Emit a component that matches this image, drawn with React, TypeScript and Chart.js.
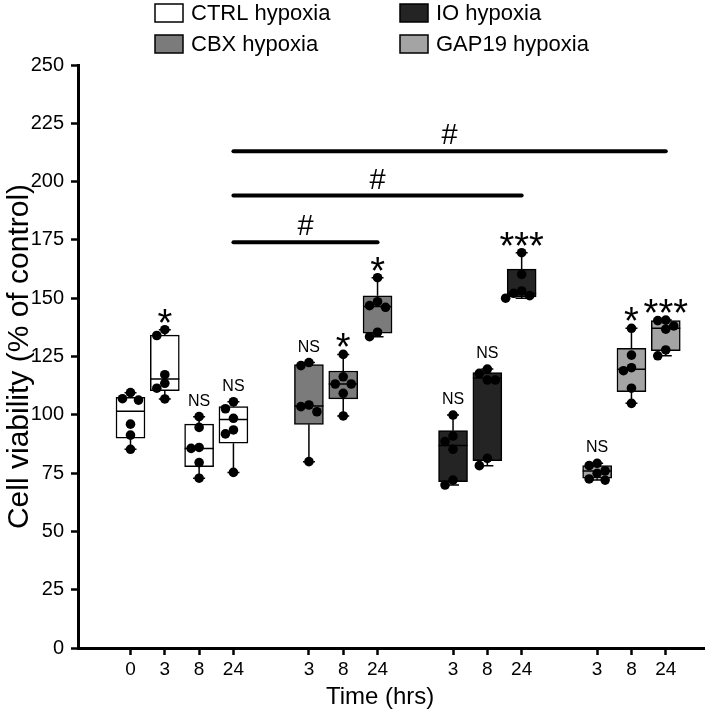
import React, { useEffect, useRef } from 'react';
import { Chart, registerables } from 'chart.js';

Chart.register(...registerables);

// ---------------- data ----------------
const groupNames = ['CTRL hypoxia', 'CBX hypoxia', 'IO hypoxia', 'GAP19 hypoxia'];
const timeSlots = ['0', '3', '8', '24'];

const ctrlTimes = ['0', '3', '8', '24'];
const cbxTimes = ['3', '8', '24'];
const ioTimes = ['3', '8', '24'];
const gapTimes = ['3', '8', '24'];

// individual measurements (% of control)
const ctrlPoints = [
  [109.5, 106.9, 106.3, 96.0, 91.3, 85.2],
  [136.5, 134.0, 117.2, 113.5, 111.4, 106.8],
  [99.2, 94.6, 86.0, 85.6, 79.5, 72.8],
  [105.6, 102.6, 98.5, 93.5, 91.8, 75.3],
];
const cbxPoints = [
  [122.4, 121.1, 104.2, 103.5, 101.3, 79.9],
  [125.9, 116.3, 113.2, 113.2, 109.2, 99.5],
  [158.8, 148.5, 146.8, 146.1, 135.4, 133.5],
];
const ioPoints = [
  [99.9, 90.9, 88.5, 85.2, 72.0, 69.9],
  [119.6, 117.8, 114.9, 114.9, 81.3, 78.2],
  [169.5, 160.2, 153.1, 152.1, 151.1, 150.0],
];
const gapPoints = [
  [79.2, 78.2, 76.0, 74.9, 72.5, 72.0],
  [137.1, 125.6, 120.2, 118.9, 111.4, 104.9],
  [140.6, 140.4, 138.1, 136.7, 127.8, 125.3],
];

// box statistics: [min, q1, median, q3, max]
const ctrlBoxes = [
  [85.2, 90.0, 101.5, 107.5, 109.5],
  [106.8, 110.3, 115.4, 134.2, 136.5],
  [72.8, 77.8, 85.6, 96.0, 99.2],
  [75.3, 87.8, 98.0, 103.5, 105.6],
];
const cbxBoxes = [
  [79.9, 95.9, 103.8, 121.5, 122.4],
  [99.5, 106.8, 113.2, 118.8, 125.9],
  [133.5, 135.0, 146.4, 151.0, 158.8],
];
const ioBoxes = [
  [69.9, 71.3, 86.8, 93.2, 99.9],
  [78.2, 80.3, 115.8, 118.1, 119.6],
  [150.0, 150.6, 152.0, 162.5, 169.5],
];
const gapBoxes = [
  [72.0, 72.8, 75.9, 78.2, 79.2],
  [104.9, 109.9, 119.5, 128.5, 137.1],
  [125.3, 127.5, 137.1, 140.4, 140.6],
];

// significance vs control
const ctrlSig = ['', '*', 'NS', 'NS'];
const cbxSig = ['NS', '*', '*'];
const ioSig = ['NS', 'NS', '***'];
const gapSig = ['NS', '*', '***'];

// "#" brackets from CTRL 24 h to the 24 h box of each group
const hashTargets = [1, 2, 3];
const hashLevels = [174, 194, 213];

const yTitle = 'Cell viability (% of control)';
const xTitle = 'Time (hrs)';
const yMin = 0;
const yMax = 250;
const yStep = 25;

// ---------------- styling ----------------
const groupColors = ['#ffffff', '#7b7b7b', '#242424', '#a4a4a4'];
const FONT = '"Liberation Sans", Arial, Helvetica, sans-serif';
const GROUP_STRIDE = 4.2;

type Box = { g: number; pos: number; label: string; stats: number[]; points: number[]; sig: string };

const groupTimes = [ctrlTimes, cbxTimes, ioTimes, gapTimes];
const groupBoxes = [ctrlBoxes, cbxBoxes, ioBoxes, gapBoxes];
const groupPoints = [ctrlPoints, cbxPoints, ioPoints, gapPoints];
const groupSig = [ctrlSig, cbxSig, ioSig, gapSig];

const boxes: Box[] = [];
groupTimes.forEach((times, g) =>
  times.forEach((t, i) => {
    boxes.push({
      g,
      pos: g * GROUP_STRIDE + timeSlots.indexOf(t),
      label: t,
      stats: groupBoxes[g][i],
      points: groupPoints[g][i],
      sig: groupSig[g][i],
    });
  })
);

const scatterData: { x: number; y: number }[] = [];
const pointBox: number[] = [];
boxes.forEach((b, bi) =>
  b.points.forEach((v) => {
    scatterData.push({ x: b.pos, y: v });
    pointBox.push(bi);
  })
);

const boxPlotPlugin = {
  id: 'boxPlotExtras',
  afterDatasetsUpdate(chart: any) {
    const meta = chart.getDatasetMeta(1);
    const byBox = new Map<number, any[]>();
    meta.data.forEach((el: any, i: number) => {
      const b = pointBox[i];
      if (!byBox.has(b)) byBox.set(b, []);
      byBox.get(b)!.push(el);
    });
    const step = 8;
    byBox.forEach((els) => {
      const sorted = [...els].sort((a, b) => a.y - b.y);
      const placed: { x: number; y: number }[] = [];
      for (const el of sorted) {
        const base = el.x;
        const cands = [0, -step, step, -2 * step, 2 * step];
        let chosen = 0;
        for (const c of cands) {
          if (placed.every((p) => Math.hypot(p.x - (base + c), p.y - el.y) >= 8)) {
            chosen = c;
            break;
          }
        }
        el.x = base + chosen;
        placed.push({ x: el.x, y: el.y });
      }
    });
  },
  afterDatasetDraw(chart: any, args: any) {
    if (args.index !== 0) return;
    const ctx = chart.ctx;
    const xs = chart.scales.x;
    const ys = chart.scales.y;
    const barMeta = chart.getDatasetMeta(0);
    ctx.save();
    ctx.strokeStyle = '#000';
    ctx.lineWidth = 1.5;
    boxes.forEach((b, i) => {
      const cx = xs.getPixelForValue(b.pos);
      const half = barMeta.data[i].width / 2;
      const [mn, q1, md, q3, mx] = b.stats.map((v) => ys.getPixelForValue(v));
      ctx.beginPath();
      ctx.moveTo(cx, q3);
      ctx.lineTo(cx, mx);
      ctx.moveTo(cx, q1);
      ctx.lineTo(cx, mn);
      ctx.moveTo(cx - 6, mx);
      ctx.lineTo(cx + 6, mx);
      ctx.moveTo(cx - 6, mn);
      ctx.lineTo(cx + 6, mn);
      ctx.moveTo(cx - half, md);
      ctx.lineTo(cx + half, md);
      ctx.stroke();
    });
    ctx.restore();
  },
  afterDraw(chart: any) {
    const ctx = chart.ctx;
    const xs = chart.scales.x;
    const ys = chart.scales.y;
    const area = chart.chartArea;
    ctx.save();
    ctx.fillStyle = '#000';
    ctx.strokeStyle = '#000';
    ctx.textAlign = 'center';
    ctx.textBaseline = 'alphabetic';
    // significance marks
    boxes.forEach((b) => {
      if (!b.sig) return;
      const cx = xs.getPixelForValue(b.pos);
      const top = ys.getPixelForValue(b.stats[4]);
      if (b.sig === 'NS') {
        ctx.font = `16px ${FONT}`;
        ctx.fillText(b.sig, cx, top - 11);
      } else {
        ctx.font = `38px ${FONT}`;
        ctx.fillText(b.sig, cx, top + 6);
      }
    });
    // hash brackets
    const fromBox = boxes.find((b) => b.g === 0 && b.label === '24')!;
    hashTargets.forEach((g, k) => {
      const toBox = boxes.find((b) => b.g === g && b.label === '24')!;
      const x1 = xs.getPixelForValue(fromBox.pos);
      const x2 = xs.getPixelForValue(toBox.pos);
      const yy = ys.getPixelForValue(hashLevels[k]);
      ctx.lineWidth = 4;
      ctx.lineCap = 'round';
      ctx.beginPath();
      ctx.moveTo(x1, yy);
      ctx.lineTo(x2, yy);
      ctx.stroke();
      ctx.font = `29px ${FONT}`;
      ctx.fillText('#', (x1 + x2) / 2, yy - 7);
    });
    // x-axis title (slightly left of centre, as in the original figure)
    ctx.font = `24px ${FONT}`;
    ctx.textBaseline = 'middle';
    ctx.fillText(xTitle, (area.left + area.right) / 2 - 11, 697);
    // legend (2 columns)
    ctx.textAlign = 'left';
    ctx.textBaseline = 'middle';
    ctx.font = `22px ${FONT}`;
    ctx.lineWidth = 1.5;
    groupNames.forEach((name, g) => {
      const col = Math.floor(g / 2);
      const row = g % 2;
      const sx = 155 + col * 245;
      const cy = 13 + row * 31;
      ctx.fillStyle = groupColors[g];
      ctx.fillRect(sx, cy - 9, 28, 18);
      ctx.strokeRect(sx, cy - 9, 28, 18);
      ctx.fillStyle = '#000';
      ctx.fillText(name, sx + 36, cy + 1);
    });
    ctx.restore();
  },
};

export default function App() {
  const canvasRef = useRef<HTMLCanvasElement | null>(null);

  useEffect(() => {
    if (!canvasRef.current) return;
    Chart.defaults.font.family = FONT;
    Chart.defaults.color = '#000';
    const chart = new Chart(canvasRef.current, {
      type: 'bar',
      data: {
        datasets: [
          {
            type: 'bar',
            label: 'boxes',
            data: boxes.map((b) => ({ x: b.pos, y: [b.stats[1], b.stats[3]] })) as any,
            backgroundColor: boxes.map((b) => groupColors[b.g]),
            borderColor: '#000',
            borderWidth: 1.5,
            borderSkipped: false,
            barThickness: 29,
            order: 2,
          } as any,
          {
            type: 'scatter',
            label: 'points',
            data: scatterData,
            pointRadius: 4.8,
            pointBackgroundColor: '#000',
            pointBorderColor: '#000',
            pointBorderWidth: 0,
            order: 1,
          } as any,
        ],
      },
      options: {
        responsive: false,
        animation: false,
        layout: { padding: { top: 65, right: 0, bottom: 0, left: 0 } },
        plugins: { legend: { display: false }, tooltip: { enabled: false } },
        scales: {
          x: {
            type: 'linear',
            min: -1.53,
            max: 16.72,
            offset: false,
            afterBuildTicks: (s: any) => {
              s.ticks = boxes.map((b) => ({ value: b.pos }));
            },
            afterFit: (s: any) => {
              s.height = 70;
            },
            ticks: {
              callback: (_v: any, i: number) => (boxes[i] ? boxes[i].label : ''),
              autoSkip: false,
              maxRotation: 0,
              font: { size: 19 },
              color: '#000',
              padding: 3,
            },
            grid: {
              display: true,
              drawOnChartArea: false,
              drawTicks: true,
              tickLength: 7,
              tickWidth: 2.5,
              tickColor: '#000',
              offset: false,
            },
            border: { display: true, color: '#000', width: 3 },
            title: { display: false },
          } as any,
          y: {
            type: 'linear',
            min: yMin,
            max: yMax,
            afterFit: (s: any) => {
              s.width = 78;
            },
            ticks: { stepSize: yStep, font: { size: 20 }, color: '#000', padding: 7 },
            grid: {
              drawOnChartArea: false,
              drawTicks: true,
              tickLength: 7,
              tickWidth: 2.5,
              tickColor: '#000',
            },
            border: { display: true, color: '#000', width: 3 },
            title: {
              display: true,
              text: yTitle,
              font: { size: 30 },
              color: '#000',
              padding: { top: 2, bottom: 0 },
            },
          } as any,
        },
      },
      plugins: [boxPlotPlugin],
    });
    return () => chart.destroy();
  }, []);

  return (
    <div style={{ position: 'absolute', left: 0, top: 0, width: 709, height: 718, background: '#fff' }}>
      <canvas ref={canvasRef} width={709} height={718} style={{ display: 'block' }} />
    </div>
  );
}
